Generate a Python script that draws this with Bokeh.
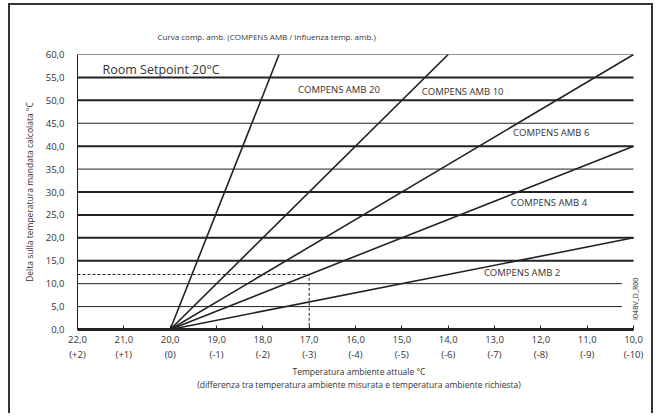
from bokeh.plotting import figure
from bokeh.models import Range1d, FixedTicker, Label, ColumnDataSource, Title
from bokeh.core.properties import value
from bokeh.embed import file_html
from bokeh.resources import INLINE

# ---- data ----
x_ticks = [22, 21, 20, 19, 18, 17, 16, 15, 14, 13, 12, 11, 10]
x_tick_labels = ["22,0\n(+2)", "21,0\n(+1)", "20,0\n(0)", "19,0\n(-1)", "18,0\n(-2)", "17,0\n(-3)",
                 "16,0\n(-4)", "15,0\n(-5)", "14,0\n(-6)", "13,0\n(-7)", "12,0\n(-8)", "11,0\n(-9)",
                 "10,0\n(-10)"]
y_ticks = [0, 5, 10, 15, 20, 25, 30, 35, 40, 45, 50, 55, 60]
y_tick_labels = ["0,0", "5,0", "10,0", "15,0", "20,0", "25,0", "30,0", "35,0", "40,0", "45,0",
                 "50,0", "55,0", "60,0"]

curve_names = ["COMPENS AMB 2", "COMPENS AMB 4", "COMPENS AMB 6", "COMPENS AMB 10", "COMPENS AMB 20"]
curve_x_start = [20, 20, 20, 20, 20]
curve_y_start = [0, 0, 0, 0, 0]
curve_x_end = [10, 10, 10, 14, 17.65]
curve_y_end = [20, 40, 60, 60, 60]
label_x = [13.23, 12.65, 12.6, 14.57, 17.24]
label_y = [12.4, 27.7, 43.0, 51.9, 52.4]

grid_bold_y = [15, 20, 25, 30, 40, 50, 55]
grid_bold_x_end = [10, 10, 10, 10, 10, 10, 10]
grid_thin_y = [5, 10, 35, 45, 60]
grid_thin_x_end = [10.25, 10.25, 10, 10, 10]
base_y = [0]
base_x_end = [10]

example_x = [22, 17, 17]
example_y = [12, 12, 0]

FONT = "Open Sans"
INK = "#222222"
TXT = "#333333"

p = figure(width=645, height=410, output_backend="svg", toolbar_location=None,
           x_range=Range1d(22, 9.85), y_range=Range1d(0, 60),
           min_border_left=67, min_border_right=15, min_border_top=49, min_border_bottom=86)
p.styles = {"border-left": "2px solid #333333", "border-top": "2px solid #333333",
            "border-right": "2px solid #333333", "margin-left": "8px", "margin-top": "3px"}
p.outline_line_color = None
p.xgrid.grid_line_color = None
p.ygrid.grid_line_color = None

p.title.text = ""
# spacer between the title and the plot frame, then the title itself
p.add_layout(Title(text=" ", text_font_size="6px", standoff=0), "above")
p.add_layout(Title(text="Curva comp. amb. (COMPENS AMB / Influenza temp. amb.)",
                   text_font=FONT, text_font_size="8px", text_font_style="normal",
                   text_color=TXT, align="left", offset=80), "above")

# grid lines
p.segment(x0=[22] * len(grid_bold_y), y0=grid_bold_y, x1=grid_bold_x_end, y1=grid_bold_y,
          line_color=INK, line_width=2)
p.segment(x0=[22] * len(grid_thin_y), y0=grid_thin_y, x1=grid_thin_x_end, y1=grid_thin_y,
          line_color=INK, line_width=1)
p.segment(x0=[22], y0=base_y, x1=base_x_end, y1=base_y, line_color=INK, line_width=3)

# example dashed lines
p.line(example_x, example_y, line_color=INK, line_width=1, line_dash="3 2")

# curves
p.segment(x0=curve_x_start, y0=curve_y_start, x1=curve_x_end, y1=curve_y_end,
          line_color=INK, line_width=1.6)

src = ColumnDataSource(dict(x=label_x, y=label_y, t=curve_names))
p.text(x="x", y="y", text="t", source=src, text_font=value(FONT), text_font_size="9.5px",
       text_color=TXT, text_baseline="middle", text_align="left")

# axes
xa = p.xaxis[0]
xa.ticker = FixedTicker(ticks=x_ticks)
xa.major_label_overrides = {t: l for t, l in zip(x_ticks, x_tick_labels)}
xa.bounds = (10, 22)
xa.axis_line_width = 3
xa.axis_line_color = INK
xa.major_tick_in = 4
xa.major_tick_out = 0
xa.major_tick_line_color = INK
xa.minor_tick_line_color = None
xa.major_label_text_font = FONT
xa.major_label_text_font_size = "9.5px"
xa.major_label_text_color = TXT
xa.major_label_standoff = 3
xa.axis_label = ("Temperatura ambiente attuale \u00b0C\n"
                 "(differenza tra temperatura ambiente misurata e temperatura ambiente richiesta)")
xa.axis_label_text_font = FONT
xa.axis_label_text_font_size = "8.5px"
xa.axis_label_text_font_style = "normal"
xa.axis_label_text_color = TXT
xa.axis_label_standoff = 2

ya = p.yaxis[0]
ya.ticker = FixedTicker(ticks=y_ticks)
ya.major_label_overrides = {t: l for t, l in zip(y_ticks, y_tick_labels)}
ya.axis_line_width = 1
ya.axis_line_color = INK
ya.major_tick_line_color = None
ya.minor_tick_line_color = None
ya.major_label_text_font = FONT
ya.major_label_text_font_size = "9.5px"
ya.major_label_text_color = TXT
ya.major_label_standoff = 7
ya.axis_label = "Delta sulla temperatura mandata calcolata \u00b0C"
ya.axis_label_text_font = FONT
ya.axis_label_text_font_size = "8.5px"
ya.axis_label_text_font_style = "normal"
ya.axis_label_text_color = TXT
ya.axis_label_standoff = 8

# annotations
p.add_layout(Label(x=21.46, y=56.7, text="Room Setpoint 20\u00b0C", text_font=FONT,
                   text_font_size="12.5px", text_color=TXT, text_baseline="middle"))
p.add_layout(Label(x=9.96, y=6.7, text="I04BV_D_R00", angle=1.5708, text_font=FONT,
                   text_font_size="7px", text_color="#222222", text_baseline="middle",
                   text_align="center"))

open("out.html", "w").write(file_html(p, INLINE))
